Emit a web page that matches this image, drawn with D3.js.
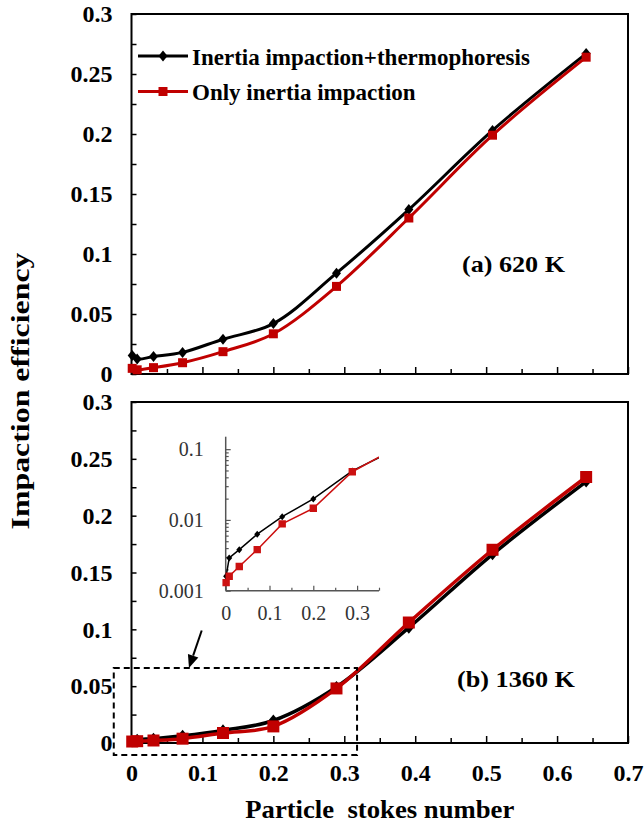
<!DOCTYPE html>
<html><head><meta charset="utf-8">
<script src="https://cdn.jsdelivr.net/npm/d3@7"></script>
<style>
body{margin:0;background:#fff}svg{display:block}
svg text{font-family:"Liberation Serif","Times New Roman",serif !important;}
</style>
</head><body>
<script>
// ---- data ----
const stokes      = [0.001, 0.008, 0.031, 0.072, 0.129, 0.200, 0.289, 0.391, 0.509, 0.641];
const a_combined  = [0.0155, 0.0125, 0.0145, 0.0180, 0.0290, 0.0420, 0.0840, 0.1370, 0.2030, 0.2670];
const a_inertia   = [0.0047, 0.0035, 0.0053, 0.0094, 0.0186, 0.0335, 0.0730, 0.1300, 0.1990, 0.2640];
const b_combined  = [0.0016, 0.0029, 0.0038, 0.0063, 0.0111, 0.0198, 0.0493, 0.1015, 0.1660, 0.2300];
const b_inertia   = [0.0013, 0.0016, 0.0022, 0.0038, 0.0088, 0.0146, 0.0480, 0.1060, 0.1700, 0.2340];
const seriesNames = ["Inertia impaction+thermophoresis", "Only inertia impaction"];
const panelLabels = ["(a) 620 K", "(b) 1360 K"];
const yTicks      = [0, 0.05, 0.1, 0.15, 0.2, 0.25, 0.3];
const yTickLabels = ["0", "0.05", "0.1", "0.15", "0.2", "0.25", "0.3"];
const yMinor      = [0.025, 0.075, 0.125, 0.175, 0.225, 0.275];
const xTicks      = [0, 0.1, 0.2, 0.3, 0.4, 0.5, 0.6, 0.7];
const xTickLabels = ["0", "0.1", "0.2", "0.3", "0.4", "0.5", "0.6", "0.7"];
const xMinor      = [0.05, 0.15, 0.25, 0.35, 0.45, 0.55, 0.65];
const insetXTicks = [0, 0.1, 0.2, 0.3];
const insetXTickLabels = ["0", "0.1", "0.2", "0.3"];
const insetXMinor = [0.05, 0.15, 0.25, 0.35];
const insetYTicks = [0.001, 0.01, 0.1];
const insetYTickLabels = ["0.001", "0.01", "0.1"];
const zoomBoxX = [-0.025, 0.318];
const zoomBoxY = [-0.0105, 0.066];
const arrowFrom = [0.099, 0.099];
const arrowTo   = [0.081, 0.066];

// ---- setup ----
const W = 644, H = 827;
const BLACK = "#000", RED = "#c00000";
const FONT = "Liberation Serif";
const svg = d3.select("body").append("svg").attr("width", W).attr("height", H)
  .attr("font-family", FONT);

const x = d3.scaleLinear([0, 0.7], [131.5, 628]);
const yTop = d3.scaleLinear([0, 0.3], [374, 14]);
const yBot = d3.scaleLinear([0, 0.3], [743, 402]);

function diamondPath(hw, hh) { return `M0,${-hh}L${hw},0L0,${hh}L${-hw},0Z`; }

function drawPanel(y, showXLabels) {
  const g = svg.append("g");
  const ya = d3.axisLeft(y).tickValues(yTicks).tickFormat((d, i) => yTickLabels[i])
    .tickSizeInner(-5).tickSizeOuter(0).tickPadding(19);
  const yg = g.append("g").attr("transform", `translate(${x.range()[0]},0)`).call(ya);
  const ym = d3.axisLeft(y).tickValues(yMinor).tickFormat("").tickSizeInner(-5).tickSizeOuter(0);
  const ymg = g.append("g").attr("transform", `translate(${x.range()[0]},0)`).call(ym);
  const xa = d3.axisBottom(x).tickValues(xTicks).tickFormat((d, i) => showXLabels ? xTickLabels[i] : "")
    .tickSizeInner(-7).tickSizeOuter(0).tickPadding(21);
  const xg = g.append("g").attr("transform", `translate(0,${y(0)})`).call(xa);
  const xm = d3.axisBottom(x).tickValues(xMinor).tickFormat("").tickSizeInner(-5).tickSizeOuter(0);
  const xmg = g.append("g").attr("transform", `translate(0,${y(0)})`).call(xm);
  [yg, ymg, xg, xmg].forEach(a => {
    a.attr("font-family", FONT);
    a.select(".domain").remove();
    a.selectAll("line").attr("stroke", BLACK).attr("stroke-width", 1.5);
    a.selectAll("text").attr("font-weight", "bold").attr("font-size", 24).attr("fill", BLACK);
  });
  g.append("rect").attr("x", x.range()[0]).attr("y", y.range()[1])
    .attr("width", x.range()[1] - x.range()[0]).attr("height", y.range()[0] - y.range()[1])
    .attr("fill", "none").attr("stroke", BLACK).attr("stroke-width", 2);
  return g;
}

function drawSeries(g, y, vals, color, kind, lw, msize) {
  const pts = stokes.map((s, i) => [s, vals[i]]);
  const line = d3.line().x(d => x(d[0])).y(d => y(d[1])).curve(d3.curveCatmullRom);
  g.append("path").attr("d", line(pts)).attr("fill", "none").attr("stroke", color)
    .attr("stroke-width", lw).attr("stroke-linejoin", "round");
  g.selectAll(null).data(pts).enter().append("path")
    .attr("transform", d => `translate(${x(d[0])},${y(d[1])})`)
    .attr("d", kind === "diamond" ? diamondPath(msize * 0.45, msize * 0.55)
      : `M${-msize/2},${-msize/2}h${msize}v${msize}h${-msize}Z`)
    .attr("fill", color);
}

// ---- top panel ----
const gTop = drawPanel(yTop, false);
drawSeries(gTop, yTop, a_combined, BLACK, "diamond", 3, 10);
drawSeries(gTop, yTop, a_inertia, RED, "square", 3, 9);

const legRows = [{y: 56, base: 64.5, color: BLACK, kind: "diamond"}, {y: 91.5, base: 100, color: RED, kind: "square"}];
legRows.forEach((r, i) => {
  gTop.append("line").attr("x1", 138).attr("x2", 188).attr("y1", r.y).attr("y2", r.y)
    .attr("stroke", r.color).attr("stroke-width", 3);
  gTop.append("path").attr("transform", `translate(163,${r.y})`)
    .attr("d", r.kind === "diamond" ? diamondPath(4.5, 5.5) : "M-4.5,-4.5h9v9h-9Z")
    .attr("fill", r.color);
  gTop.append("text").attr("x", 192).attr("y", r.base).text(seriesNames[i])
    .attr("font-weight", "bold").attr("font-size", 23).attr("fill", BLACK);
});
gTop.append("text").attr("x", 462).attr("y", 272).text(panelLabels[0])
  .attr("font-weight", "bold").attr("font-size", 24).attr("textLength", 103)
  .attr("lengthAdjust", "spacingAndGlyphs");

// ---- bottom panel ----
const gBot = drawPanel(yBot, true);
drawSeries(gBot, yBot, b_combined, BLACK, "diamond", 3.5, 11);
drawSeries(gBot, yBot, b_inertia, RED, "square", 3.5, 12);
gBot.append("text").attr("x", 457).attr("y", 687).text(panelLabels[1])
  .attr("font-weight", "bold").attr("font-size", 24).attr("textLength", 118)
  .attr("lengthAdjust", "spacingAndGlyphs");

gBot.append("rect").attr("x", x(zoomBoxX[0])).attr("y", yBot(zoomBoxY[1]))
  .attr("width", x(zoomBoxX[1]) - x(zoomBoxX[0])).attr("height", yBot(zoomBoxY[0]) - yBot(zoomBoxY[1]))
  .attr("fill", "none").attr("stroke", BLACK).attr("stroke-width", 2).attr("stroke-dasharray", "6,4");

{
  const x1 = x(arrowFrom[0]), y1 = yBot(arrowFrom[1]), x2 = x(arrowTo[0]), y2 = yBot(arrowTo[1]);
  const ang = Math.atan2(y2 - y1, x2 - x1);
  const L = 13, hw = 5.5;
  const bx = x2 - L * Math.cos(ang), by = y2 - L * Math.sin(ang);
  gBot.append("line").attr("x1", x1).attr("y1", y1).attr("x2", bx).attr("y2", by)
    .attr("stroke", BLACK).attr("stroke-width", 2);
  const px = -Math.sin(ang) * hw, py = Math.cos(ang) * hw;
  gBot.append("path").attr("d", `M${x2},${y2}L${bx + px},${by + py}L${bx - px},${by - py}Z`).attr("fill", BLACK);
}

// ---- inset ----
const ix = d3.scaleLinear([0, 0.35], [225.7, 379]);
const iy = d3.scaleLog([0.001, 0.15], [590.7, 436.7]);
const gIn = svg.append("g");
const INK = "#555";
const iya = d3.axisLeft(iy).tickValues(insetYTicks).tickFormat((d, i) => insetYTickLabels[i])
  .tickSizeInner(-5).tickSizeOuter(0).tickPadding(22);
const iyg = gIn.append("g").attr("transform", `translate(${ix(0)},0)`).call(iya);
const iyMinorVals = iy.ticks().filter(v => !insetYTicks.some(t => Math.abs(t - v) < 1e-12));
const iym = d3.axisLeft(iy).tickValues(iyMinorVals).tickFormat("").tickSizeInner(-3).tickSizeOuter(0);
const iymg = gIn.append("g").attr("transform", `translate(${ix(0)},0)`).call(iym);
const ixa = d3.axisBottom(ix).tickValues(insetXTicks).tickFormat((d, i) => insetXTickLabels[i])
  .tickSizeInner(-5).tickSizeOuter(0).tickPadding(15);
const ixg = gIn.append("g").attr("transform", `translate(0,${iy(0.001)})`).call(ixa);
const ixm = d3.axisBottom(ix).tickValues(insetXMinor).tickFormat("").tickSizeInner(-3).tickSizeOuter(0);
const ixmg = gIn.append("g").attr("transform", `translate(0,${iy(0.001)})`).call(ixm);
[iyg, iymg, ixg, ixmg].forEach(a => {
  a.attr("font-family", FONT);
  a.select(".domain").remove();
  a.selectAll("line").attr("stroke", INK).attr("stroke-width", 1.2);
  a.selectAll("text").attr("font-size", 20).attr("fill", "#333");
});
gIn.append("line").attr("x1", ix(0)).attr("x2", ix(0)).attr("y1", iy.range()[0]).attr("y2", iy.range()[1])
  .attr("stroke", INK).attr("stroke-width", 1.5);
gIn.append("line").attr("x1", ix(0)).attr("x2", ix(0.35)).attr("y1", iy.range()[0]).attr("y2", iy.range()[0])
  .attr("stroke", INK).attr("stroke-width", 1.5);
svg.append("clipPath").attr("id", "insetClip").append("rect")
  .attr("x", ix(0) - 8).attr("y", iy.range()[1]).attr("width", ix(0.35) - ix(0) + 8)
  .attr("height", iy.range()[0] - iy.range()[1] + 10);
const gInData = gIn.append("g").attr("clip-path", "url(#insetClip)");
[[b_combined, BLACK, "diamond"], [b_inertia, "#cc1111", "square"]].forEach(([vals, color, kind]) => {
  const pts = stokes.map((s, i) => [s, vals[i]]);
  const line = d3.line().x(d => ix(d[0])).y(d => iy(d[1]));
  gInData.append("path").attr("d", line(pts)).attr("fill", "none").attr("stroke", color).attr("stroke-width", 1.5);
  gInData.selectAll(null).data(pts.filter(d => d[0] <= 0.35)).enter().append("path")
    .attr("transform", d => `translate(${ix(d[0])},${iy(d[1])})`)
    .attr("d", kind === "diamond" ? diamondPath(3, 3.5) : "M-3.7,-3.7h7.4v7.4h-7.4Z")
    .attr("fill", color);
});

// ---- axis titles ----
svg.append("text").attr("x", (x.range()[0] + x.range()[1]) / 2).attr("y", 818)
  .attr("xml:space", "preserve")
  .attr("text-anchor", "middle").attr("font-weight", "bold").attr("font-size", 26)
  .attr("textLength", 269).attr("lengthAdjust", "spacingAndGlyphs")
  .text("Particle  stokes number");
svg.append("text").attr("transform", "translate(29,391) rotate(-90)")
  .attr("text-anchor", "middle").attr("font-weight", "bold").attr("font-size", 25)
  .attr("textLength", 277).attr("lengthAdjust", "spacingAndGlyphs")
  .text("Impaction efficiency");
</script>
</body></html>
